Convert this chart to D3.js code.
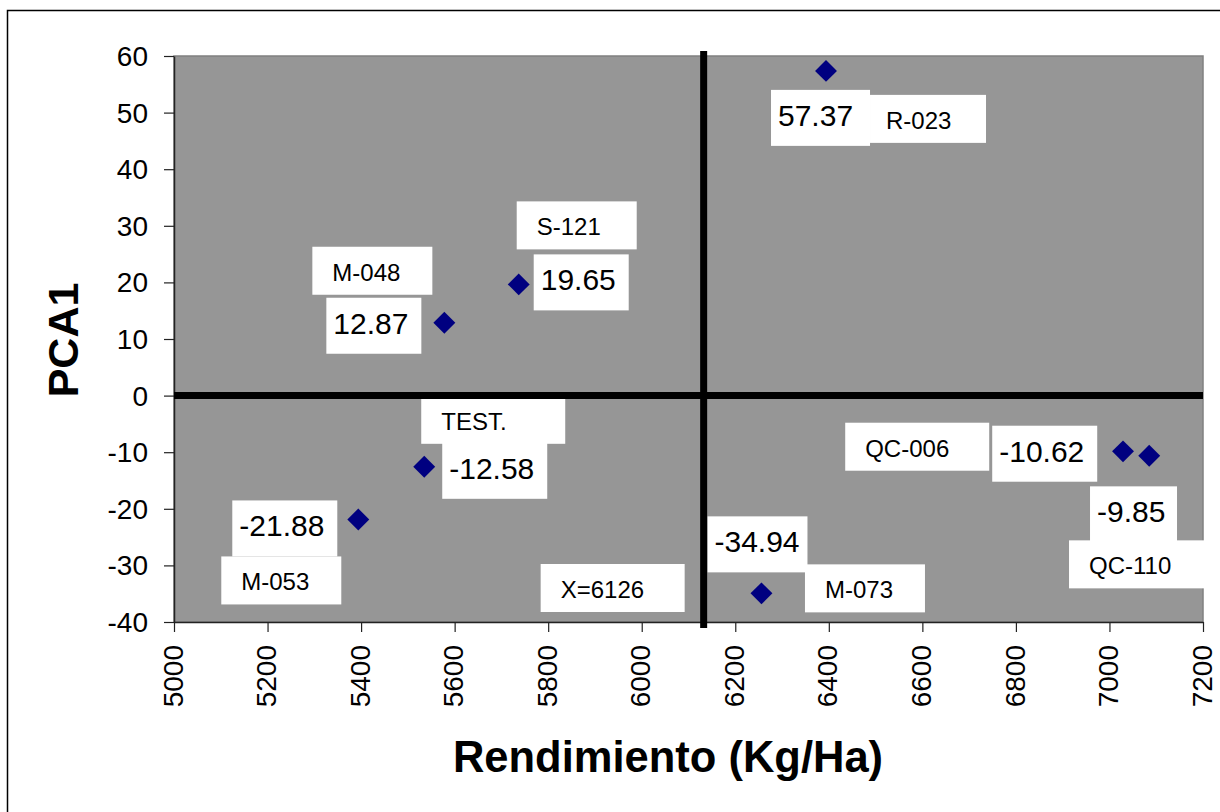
<!DOCTYPE html>
<html>
<head>
<meta charset="utf-8">
<script src="https://cdn.jsdelivr.net/npm/d3@7"></script>
<style>
  body { margin: 0; background: #fff; }
  text { font-family: "Liberation Sans", Arial, sans-serif; }
</style>
</head>
<body>
<div id="chart"></div>
<script>
// datos
var genotipos = ["S-121", "M-048", "M-053", "TEST.", "M-073", "R-023", "QC-110", "QC-006"];
var rendimiento = [5737, 5578, 5394, 5535, 6256, 6394, 7029, 7085];
var pca1 = [19.65, 12.87, -21.88, -12.58, -34.94, 57.37, -9.85, -10.62];
var mediaRend = 6126;
var xTicks = [5000, 5200, 5400, 5600, 5800, 6000, 6200, 6400, 6600, 6800, 7000, 7200];
var yTicks = [60, 50, 40, 30, 20, 10, 0, -10, -20, -30, -40];

// posicion de las cajas de etiquetas (px, relativo al punto)
var layout = {
  "S-121":  { name: [-2, -83, 120], value: [15, -30, 95] },
  "M-048":  { name: [-132, -76, 120], value: [-118, -25, 95] },
  "M-053":  { name: [-137, 37, 120], value: [-126, -19, 105] },
  "TEST.":  { name: [-3, -71, 144], value: [18, -24, 105] },
  "M-073":  { name: [43.5, -29, 120], value: [-54, -77, 100] },
  "R-023":  { name: [44, 24, 116], value: [-55, 19, 99] },
  "QC-110": { name: [-54, 89, 135], value: [-33, 35, 87] },
  "QC-006": { name: [-304, -33, 144], value: [-157, -30, 105] }
};

var w = 1220, h = 812;
var padding = { top: 56, right: 17, bottom: 190, left: 174 };

var data = genotipos.map(function (g, i) {
  return { name: g, x: rendimiento[i], y: pca1[i] };
});

// guion normal en vez del signo menos
var loc = d3.formatLocale({ decimal: ".", thousands: ",", grouping: [3], currency: ["", ""], minus: "-" });

var svg = d3.select("#chart").append("svg").attr("width", w).attr("height", h);

// marco exterior
svg.append("rect")
  .attr("x", 7.5).attr("y", 10.5)
  .attr("width", 1400).attr("height", 1000)
  .attr("fill", "#fff").attr("stroke", "#000").attr("stroke-width", 1.5);

var xScale = d3.scaleLinear().domain([5000, 7200]).range([padding.left, w - padding.right]);
var yScale = d3.scaleLinear().domain([-40, 60]).range([h - padding.bottom, padding.top]);

// area de trazado
svg.append("rect")
  .attr("x", xScale(5000)).attr("y", yScale(60))
  .attr("width", xScale(7200) - xScale(5000))
  .attr("height", yScale(-40) - yScale(60))
  .attr("fill", "#969696").attr("stroke", "#808080").attr("stroke-width", 1.5);

// ejes
var xAxis = d3.axisBottom(xScale).tickValues(xTicks).tickSize(10).tickSizeOuter(0).tickFormat(loc.format("d"));
var yAxis = d3.axisLeft(yScale).tickValues(yTicks).tickSize(10).tickSizeOuter(0).tickPadding(16).tickFormat(loc.format("d"));

var gx = svg.append("g")
  .attr("transform", "translate(0," + yScale(-40) + ")")
  .call(xAxis);
gx.selectAll("text")
  .attr("transform", "rotate(-90)")
  .attr("text-anchor", "end")
  .attr("x", -23).attr("y", 0).attr("dy", "0.29em")
  .attr("font-size", 28).attr("font-family", "Liberation Sans, Arial, sans-serif")
  .attr("fill", "#000");

var gy = svg.append("g")
  .attr("transform", "translate(" + xScale(5000) + ",0)")
  .call(yAxis);
gy.selectAll("text")
  .attr("dy", "0.34em")
  .attr("font-size", 28).attr("font-family", "Liberation Sans, Arial, sans-serif")
  .attr("fill", "#000");

[gx, gy].forEach(function (g) {
  g.select(".domain").attr("stroke", "#222").attr("stroke-width", 1.5);
  g.selectAll(".tick line").attr("stroke", "#222").attr("stroke-width", 1.2);
});

// etiquetas
function caja(x, y, wd, ht, txt, size, inset, base) {
  svg.append("rect")
    .attr("x", x).attr("y", y).attr("width", wd).attr("height", ht)
    .attr("fill", "#fff");
  svg.append("text")
    .attr("x", x + inset).attr("y", y + base)
    .attr("font-size", size).attr("fill", "#000")
    .text(txt);
}

var fmt = loc.format(".2f");
data.forEach(function (d) {
  var px = xScale(d.x), py = yScale(d.y);
  var l = layout[d.name];
  caja(px + l.value[0], py + l.value[1], l.value[2], 56, fmt(d.y), 30, 7, 36);
  caja(px + l.name[0], py + l.name[1], l.name[2], 48, d.name, 24, d.name === "R-023" ? 16 : 20, 34);
});

caja(xScale(mediaRend) - 160, yScale(-40) - 58, 144, 48, "X=" + mediaRend, 24, 20, 34);

// lineas de referencia
svg.append("line")
  .attr("x1", xScale(5000)).attr("x2", xScale(7200))
  .attr("y1", yScale(0)).attr("y2", yScale(0))
  .attr("stroke", "#000").attr("stroke-width", 7);
svg.append("line")
  .attr("x1", xScale(mediaRend) + 3).attr("x2", xScale(mediaRend) + 3)
  .attr("y1", yScale(60) - 5).attr("y2", yScale(-40) + 6)
  .attr("stroke", "#000").attr("stroke-width", 7);

// puntos
svg.selectAll("path.punto")
  .data(data)
  .enter()
  .append("path")
  .attr("class", "punto")
  .attr("d", d3.symbol(d3.symbolSquare, 240))
  .attr("transform", function (d) { return "translate(" + xScale(d.x) + "," + yScale(d.y) + ") rotate(45)"; })
  .attr("fill", "#000080");

// titulos de ejes
svg.append("text")
  .attr("x", 668).attr("y", 772)
  .attr("text-anchor", "middle")
  .attr("font-size", 43.5).attr("font-weight", "bold")
  .text("Rendimiento (Kg/Ha)");
svg.append("text")
  .attr("transform", "translate(78,340) rotate(-90)")
  .attr("text-anchor", "middle")
  .attr("font-size", 43).attr("font-weight", "bold")
  .text("PCA1");
</script>
</body>
</html>
